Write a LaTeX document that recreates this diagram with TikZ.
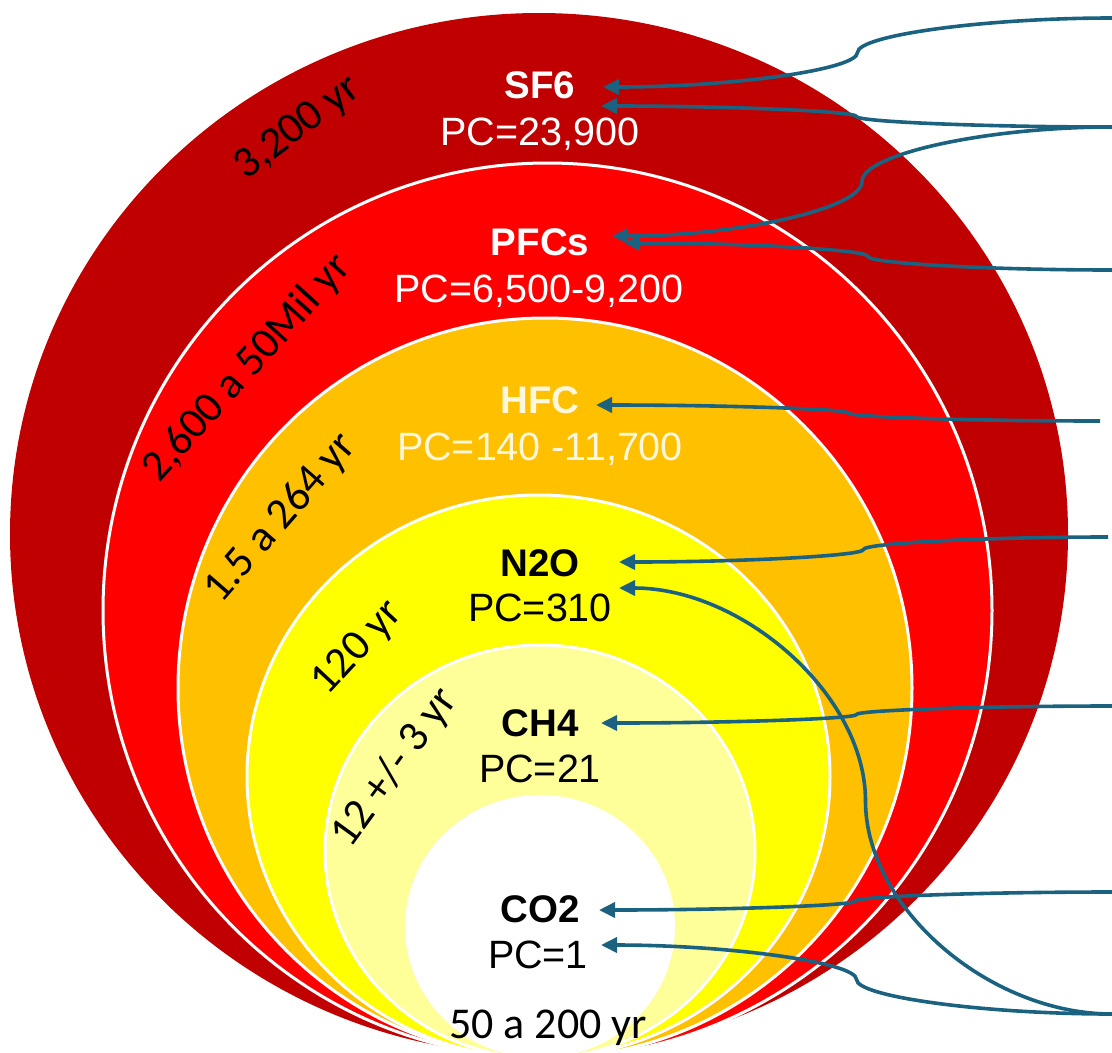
\documentclass[tikz,border=0pt]{standalone}
\usepackage{fontspec}
\setmainfont{Liberation Sans}
\newfontfamily\calib{Carlito}
\usetikzlibrary{arrows.meta,calc}
\definecolor{dred}{HTML}{C00000}
\definecolor{bred}{HTML}{FF0000}
\definecolor{orng}{HTML}{FFC000}
\definecolor{ylw}{HTML}{FFFF00}
\definecolor{lylw}{HTML}{FFFF99}
\definecolor{cream}{HTML}{FFF6DE}
\definecolor{conncol}{RGB}{27,98,128}
\newcommand\pptconn[2]{%
  \draw[conn] let \p1=(#1), \p2=(#2) in (#1)
    .. controls ({(3*\x1+\x2)/4},\y1) and ({(\x1+\x2)/2},{(3*\y1+\y2)/4})
    .. ({(\x1+\x2)/2},{(\y1+\y2)/2})
    .. controls ({(\x1+\x2)/2},{(\y1+3*\y2)/4}) and ({(\x1+3*\x2)/4},\y2)
    .. (#2);}
\begin{document}
\begin{tikzpicture}[x=1pt,y=-1pt,
  ring/.style={fill=#1,draw=white,line width=3pt},
  gas/.style={font=\fontsize{38.5}{40}\selectfont\bfseries,anchor=base,inner sep=0pt},
  pc/.style={font=\fontsize{39.5}{41}\selectfont,anchor=base,inner sep=0pt},
  yr/.style={font=\calib\fontsize{44}{46}\selectfont,inner sep=0pt},
  conn/.style={draw=conncol,line width=3.6pt,-{Triangle[length=16pt,width=15pt]}}]
\useasboundingbox (0,0) rectangle (1112,1053);
\clip (0,0) rectangle (1112,1053);
% rings
\path[fill=dred] (539,534) ellipse [x radius=529pt,y radius=521pt];
\path[ring=bred] (547.5,610.5) ellipse [x radius=444.5pt,y radius=447.5pt];
\path[ring=orng] (545,688) ellipse [x radius=367pt,y radius=370pt];
\path[ring=ylw] (538.5,776.5) ellipse [x radius=291.5pt,y radius=281.5pt];
\path[ring=lylw] (540,851.5) ellipse [x radius=215pt,y radius=206.5pt];
\path[fill=white] (540,926.5) ellipse [x radius=135pt,y radius=131.5pt];
% gas labels
\node[gas,text=white] (sf6) at (540,98) {SF6};
\node[pc,text=white] (pcsf6) at (540,145) {PC=23,900};
\node[gas,text=white] (pfc) at (540,255) {PFCs};
\node[pc,text=white] (pcpfc) at (539,302) {PC=6,500-9,200};
\node[gas,text=cream] (hfc) at (540,413) {HFC};
\node[pc,text=cream] (pchfc) at (540,460) {PC=140 -11,700};
\node[gas] (n2o) at (540,576) {N2O};
\node[pc] (pcn2o) at (540,621) {PC=310};
\node[gas] (ch4) at (540,736) {CH4};
\node[pc] (pcch4) at (540,782) {PC=21};
\node[gas] (co2) at (540,922) {CO2};
\node[pc] (pcco2) at (538,968) {PC=1};
% lifetimes
\node[yr,rotate=37] (y1) at (298,128) {3,200 yr};
\node[yr,rotate=48] (y2) at (247,368) {2,600 a 50Mil yr};
\node[yr,rotate=49] (y3) at (281,518) {1.5 a 264 yr};
\node[yr,rotate=47] (y4) at (358,648) {120 yr};
\node[yr,rotate=54] (y5) at (395,768) {12 +/- 3 yr};
\node[yr,anchor=base] (y6) at (548,1038) {50 a 200 yr};
% connector ends
\coordinate (r1) at (1112,18);
\coordinate (r2) at (1112,127);
\coordinate (r4) at (1112,270);
\coordinate (r5) at (1100,421);
\coordinate (r6) at (1108,537);
\coordinate (r7) at (1112,706);
\coordinate (r8) at (1112,892);
\coordinate (r9) at (1112,1014);
\coordinate (t1) at (603,87);
\coordinate (t2) at (601,106);
\coordinate (t3) at (612,236);
\coordinate (t4) at (624,243);
\coordinate (t5) at (596,405);
\coordinate (t6) at (619,562);
\coordinate (t7) at (601,723);
\coordinate (t8) at (599,910);
\coordinate (t9) at (601,945);
\coordinate (t10) at (619,588);
\pptconn{r1}{t1}
\pptconn{r2}{t2}
\pptconn{r2}{t3}
\pptconn{r4}{t4}
\pptconn{r5}{t5}
\pptconn{r6}{t6}
\pptconn{r7}{t7}
\pptconn{r8}{t8}
\pptconn{r9}{t9}
\pptconn{r9}{t10}
\end{tikzpicture}
\end{document}
